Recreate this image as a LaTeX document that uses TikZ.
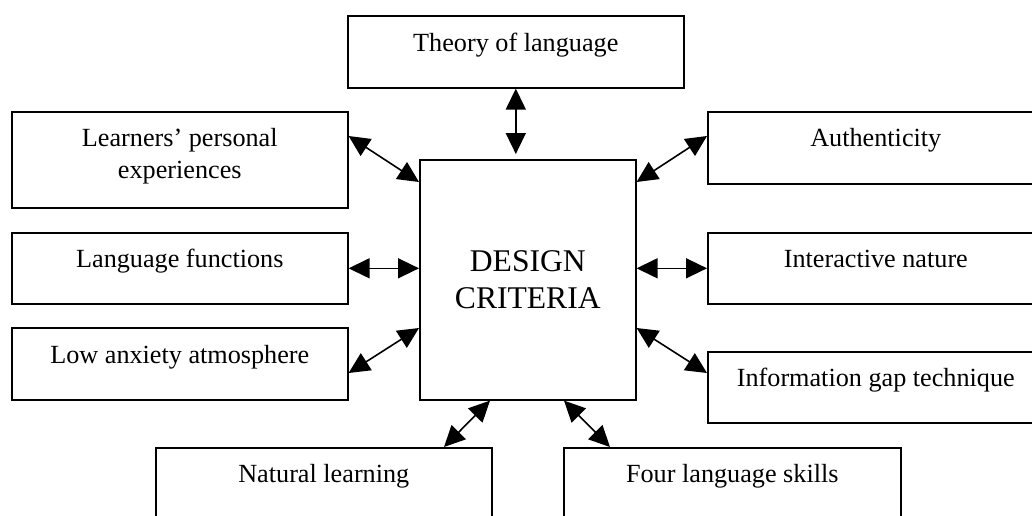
\documentclass[tikz,border=0pt]{standalone}
\usepackage{fontspec}
\setmainfont{Liberation Serif}
\usetikzlibrary{arrows.meta}
\begin{document}
\begin{tikzpicture}[x=1pt,y=-1pt,
  box/.style={draw=black, line width=1.6pt, fill=white, rectangle, inner sep=0pt, anchor=north west},
  lbl/.style={font=\fontsize{26.2}{32}\selectfont, inner sep=0pt, anchor=base, align=center},
  bigl/.style={font=\fontsize{31.6}{37}\selectfont, inner sep=0pt, align=center},
  link/.style={line width=1.6pt, {Triangle[length=21pt,width=20pt]}-{Triangle[length=21pt,width=20pt]}}]
\useasboundingbox (0,0) rectangle (1032,515);
\clip (0,0) rectangle (1032,515);
\fill[white] (0,0) rectangle (1032,515);
% boxes
\node[box, minimum width=336pt, minimum height=72pt] (theory) at (347,15) {};
\node[box, minimum width=336pt, minimum height=96pt] (learn) at (11,111) {};
\node[box, minimum width=336pt, minimum height=72pt] (auth) at (707,111) {};
\node[box, minimum width=336pt, minimum height=71pt] (func) at (11,232) {};
\node[box, minimum width=336pt, minimum height=71pt] (inter) at (707,232) {};
\node[box, minimum width=336pt, minimum height=72pt] (anx) at (11,327) {};
\node[box, minimum width=336pt, minimum height=71pt] (gap) at (707,351) {};
\node[box, minimum width=216pt, minimum height=240pt] (crit) at (419,159) {};
\node[box, minimum width=336pt, minimum height=100pt] (nat) at (155,447) {};
\node[box, minimum width=337pt, minimum height=100pt] (four) at (563,447) {};
% labels
\node[lbl] (ttheory) at ([yshift=-36pt]theory.north) {Theory of language};
\node[lbl] (tlearn) at ([yshift=-67pt]learn.north) {Learners’ personal\\experiences};
\node[lbl] (tauth) at ([yshift=-35pt]auth.north) {Authenticity};
\node[lbl] (tfunc) at ([yshift=-35pt]func.north) {Language functions};
\node[lbl] (tinter) at ([yshift=-35pt]inter.north) {Interactive nature};
\node[lbl] (tanx) at ([yshift=-36pt]anx.north) {Low anxiety atmosphere};
\node[lbl] (tgap) at ([yshift=-35pt]gap.north) {Information gap technique};
\node[lbl] (tnat) at ([yshift=-35pt]nat.north) {Natural learning};
\node[lbl] (tfour) at ([yshift=-35pt]four.north) {Four language skills};
\node[bigl] (tcrit) at (crit.center) {DESIGN\\CRITERIA};
% connectors
\draw[link] (theory.south) -- ([yshift=5pt]crit.north -| theory.south);
\draw[link] (learn.north east |- 0,136) -- (crit.north west |- 0,182);
\draw[link] (func.east) -- (crit.west |- func.east);
\draw[link] (anx.north east |- 0,373) -- (crit.north west |- 0,328);
\draw[link] (auth.north west |- 0,136) -- (crit.north east |- 0,182);
\draw[link] (crit.east |- inter.west) -- (inter.west);
\draw[link] (crit.north east |- 0,328) -- (gap.north west |- 0,373);
\draw[link] (crit.south west -| 490,0) -- (nat.north west -| 444,0);
\draw[link] (crit.south west -| 564,0) -- (four.north west -| 610,0);
\end{tikzpicture}
\end{document}
